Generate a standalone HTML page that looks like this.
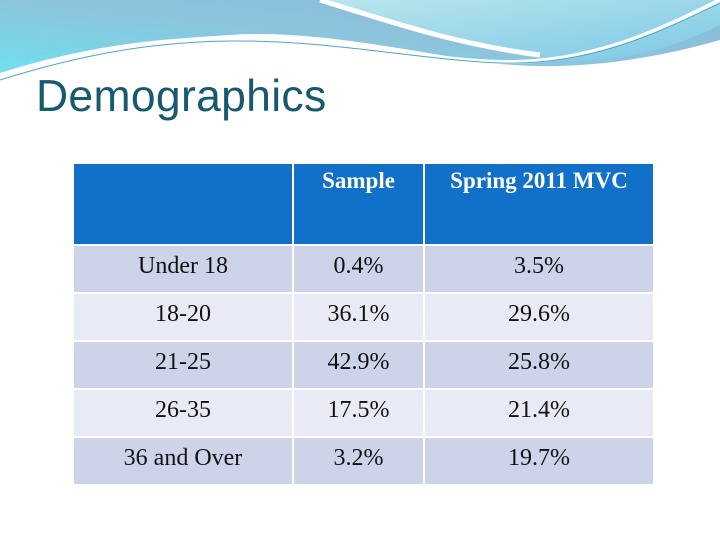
<!DOCTYPE html>
<html><head><meta charset="utf-8"><style>
body{margin:0;width:720px;height:540px;background:#fff;overflow:hidden;position:relative;font-family:"Liberation Serif",serif}
#title{position:absolute;left:36px;top:72px;font-family:"Liberation Sans",sans-serif;font-size:44.5px;color:#17596e;margin:0;font-weight:normal;letter-spacing:0.3px}
table{position:absolute;left:72px;top:162px;border-collapse:collapse}
td{border:2px solid #fff;text-align:center;font-size:24px;color:#111;padding:0 0 6px 0}
tr.h td{background:#1170c8;color:#fff;font-weight:bold;vertical-align:top;padding-top:4px;height:70px;font-size:23px}
tr.o td{background:#cdd4e9;height:40px}
tr.e td{background:#e8ebf5;height:40px}
</style></head><body>
<svg width="720" height="90" style="position:absolute;left:0;top:0">
<defs><linearGradient id="g" x1="0" y1="1" x2="1" y2="0"><stop offset="0" stop-color="#6fe0ee"/><stop offset="0.5" stop-color="#8cc4dc"/><stop offset="1" stop-color="#8ab8d8"/></linearGradient>
<linearGradient id="g2" x1="0" y1="0" x2="1" y2="1"><stop offset="0" stop-color="#b8e6ec"/><stop offset="1" stop-color="#7ec8e6"/></linearGradient></defs>
<path d="M0 0H720V40C650 60 560 75 470 60C380 45 300 30 230 35C140 40 60 55 0 75Z" fill="url(#g)"/>
<path d="M325 0H720V25C660 55 590 70 520 55C450 40 390 20 325 0Z" fill="url(#g2)"/>
<path d="M320 0C400 25 460 45 540 55" stroke="#fff" stroke-width="5" fill="none"/>
<path d="M0 75C80 50 150 40 230 38C330 36 420 60 500 62C590 64 660 30 720 0" stroke="#fff" stroke-width="4" fill="none"/>
<path d="M0 80C80 55 150 42 230 41C330 40 420 60 500 63C590 66 660 32 720 3" stroke="#4aa8c8" stroke-width="1" fill="none"/>
</svg>
<h1 id="title">Demographics</h1>
<table>
<tr class="h"><td style="width:218px"></td><td style="width:129px">Sample</td><td style="width:228px">Spring 2011 MVC</td></tr>
<tr class="o"><td>Under 18</td><td>0.4%</td><td>3.5%</td></tr>
<tr class="e"><td>18-20</td><td>36.1%</td><td>29.6%</td></tr>
<tr class="o"><td>21-25</td><td>42.9%</td><td>25.8%</td></tr>
<tr class="e"><td>26-35</td><td>17.5%</td><td>21.4%</td></tr>
<tr class="o"><td>36 and Over</td><td>3.2%</td><td>19.7%</td></tr>
</table>
</body></html>
